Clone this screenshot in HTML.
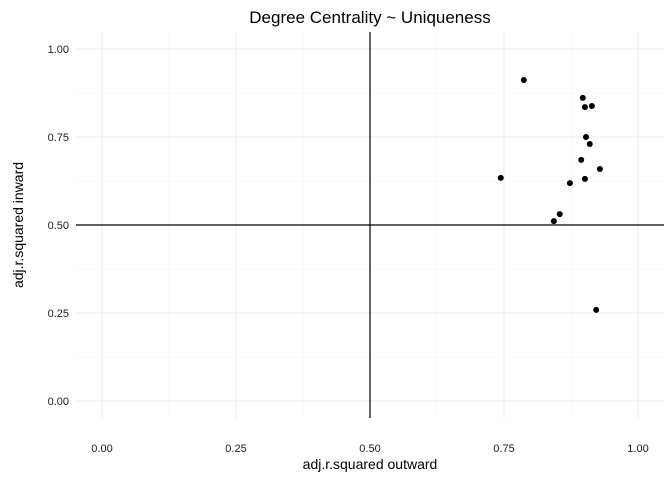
<!DOCTYPE html>
<html><head><meta charset="utf-8"><style>
body{margin:0;background:#fff}
svg{display:block;font-family:"Liberation Sans",Arial,sans-serif}
</style></head><body>
<svg id="chart" width="672" height="480">
<rect width="672" height="480" fill="#fff"/>
<g id="grid"></g>
<g id="axes"></g>
<g id="points"></g>
<text x="370" y="23" text-anchor="middle" font-size="17" fill="#000">Degree Centrality ~ Uniqueness</text>
<text x="370" y="469" text-anchor="middle" font-size="14" fill="#000">adj.r.squared outward</text>
<text transform="translate(23,225) rotate(-90)" text-anchor="middle" font-size="14" fill="#000">adj.r.squared inward</text>
</svg>
<script>
const xVals=[0.787,0.897,0.901,0.914,0.903,0.91,0.894,0.929,0.901,0.873,0.744,0.854,0.843,0.922];
const yVals=[0.912,0.861,0.835,0.838,0.75,0.73,0.685,0.659,0.631,0.619,0.634,0.531,0.511,0.259];
const ticks=[0,0.25,0.5,0.75,1];
const tickLabels=["0.00","0.25","0.50","0.75","1.00"];
const NS="http://www.w3.org/2000/svg";
const X=v=>102+v*536, Y=v=>401-v*352;
const L=76,R=664,T=32,B=418;
function mk(tag,attrs,parent){const e=document.createElementNS(NS,tag);for(const k in attrs)e.setAttribute(k,attrs[k]);parent.appendChild(e);return e;}
const grid=document.getElementById('grid'),axes=document.getElementById('axes'),pts=document.getElementById('points');
for(let v=0;v<=1.0001;v+=0.125){
  const major=Math.abs(v*4-Math.round(v*4))<1e-6;
  const c=major?"#ebebeb":"#f4f4f4";
  const gx=mk('line',{x1:X(v),x2:X(v),y1:T,y2:B,stroke:c,'stroke-width':major?1:0.6},grid);
  
  
  const gy=mk('line',{x1:L,x2:R,y1:Y(v),y2:Y(v),stroke:c,'stroke-width':major?1:0.6},grid);
  
  
}
ticks.forEach((t,i)=>{
  const tx=mk('text',{x:X(t),y:452,'text-anchor':'middle','font-size':11,fill:'#222'},axes);
  tx.textContent=tickLabels[i];
  
  
  const ty=mk('text',{x:69,y:Y(t)+4,'text-anchor':'end','font-size':11,fill:'#222'},axes);
  ty.textContent=tickLabels[i];
  
  
});
const vl=mk('line',{x1:X(0.5),x2:X(0.5),y1:T,y2:B,stroke:'#000','stroke-width':1.2},axes);


const hl=mk('line',{x1:L,x2:R,y1:Y(0.5),y2:Y(0.5),stroke:'#000','stroke-width':1.2},axes);


xVals.forEach((xv,i)=>{
  const c=mk('circle',{cx:X(xv),cy:Y(yVals[i]),r:3,fill:'#000'},pts);
  
  
});
</script>
</body></html>
